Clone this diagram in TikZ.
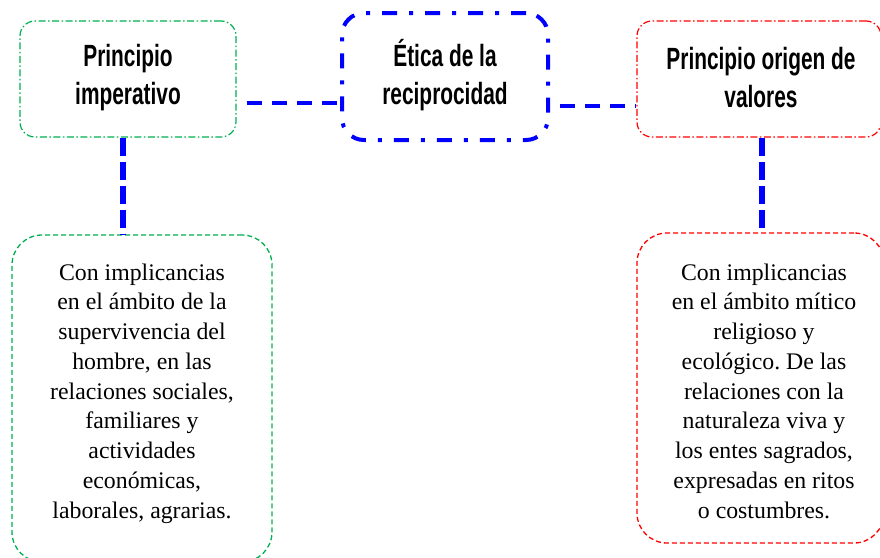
\documentclass[tikz,border=0pt]{standalone}
\usepackage{fontspec}
\setmainfont{Liberation Serif}
\newfontfamily\titlefont[FakeStretch=0.68]{Liberation Sans}
\definecolor{wgreen}{RGB}{0,176,80}
\definecolor{wred}{RGB}{255,0,0}
\definecolor{wblue}{RGB}{0,0,255}
\frenchspacing
\tikzset{
  titletext/.style={align=center,font=\titlefont\bfseries\fontsize{30.7}{38}\selectfont,text=black},
  bodytext/.style={align=center,font=\frenchspacing\fontsize{23.8}{29.75}\selectfont,text=black,inner sep=0pt},
  topbox/.style={rectangle,rounded corners=15pt,line width=1.2pt,inner sep=0pt},
  greendashdot/.style={topbox,draw=wgreen,dash pattern=on 7pt off 2.5pt on 1.5pt off 2.5pt},
  reddashdot/.style={topbox,draw=wred,dash pattern=on 7pt off 2.5pt on 1.5pt off 2.5pt},
  centerbox/.style={rectangle,rounded corners=22pt,line width=4pt,draw=wblue,inner sep=0pt,
     dash pattern=on 15pt off 12pt on 4pt off 12pt},
  lowbox/.style={rectangle,rounded corners=30pt,line width=1.3pt,inner sep=0pt,dash pattern=on 5pt off 3pt},
  hconn/.style={draw=wblue,line width=4pt,dash pattern=on 15pt off 10pt,dash phase=15pt},
  vconn/.style={draw=wblue,line width=6pt,dash pattern=on 18pt off 6pt},
}
\begin{document}
\begin{tikzpicture}[x=1pt,y=-1pt]
\useasboundingbox (0,0) rectangle (880,557);
% top boxes
\node[greendashdot,minimum width=216pt,minimum height=116pt] (b1) at (128,79) {};
\node[titletext] (t1) at (128,78) {Principio\\imperativo};
\node[centerbox,minimum width=206pt,minimum height=127pt] (b2) at (445,76.5) {};
\node[titletext] (t2) at (445,75) {Ética de la\\reciprocidad};
\node[reddashdot,minimum width=244pt,minimum height=116pt] (b3) at (759,79) {};
\node[titletext] (t3) at (761,78) {Principio origen de\\valores};
% bottom boxes
\node[lowbox,draw=wgreen,minimum width=260pt,minimum height=327pt] (b4) at (142,398.5) {};
\node[bodytext] (t4) at (142,393.5) {Con implicancias\\en el ámbito de la\\supervivencia del\\hombre, en las\\relaciones sociales,\\familiares y\\actividades\\económicas,\\laborales, agrarias.};
\node[lowbox,draw=wred,minimum width=247pt,minimum height=310pt] (b5) at (760.5,388) {};
\node[bodytext] (t5) at (764,391) {Con implicancias\\en el ámbito mítico\\religioso y\\ecológico. De las\\relaciones con la\\naturaleza viva y\\los entes sagrados,\\expresadas en ritos\\o costumbres.};
% connectors
\draw[hconn] ([yshift=-24pt]b1.east) -- ([yshift=-24pt]b1.east -| b2.west);
\draw[hconn] ([yshift=-29.5pt]b2.east) -- ([yshift=-29.5pt]b2.east -| b3.west);
\draw[vconn] ([xshift=-5pt]b1.south) -- ([xshift=-5pt]b1.south |- b4.north);
\draw[vconn] ([xshift=3pt]b3.south) -- ([xshift=3pt]b3.south |- b5.north);
\end{tikzpicture}
\end{document}
